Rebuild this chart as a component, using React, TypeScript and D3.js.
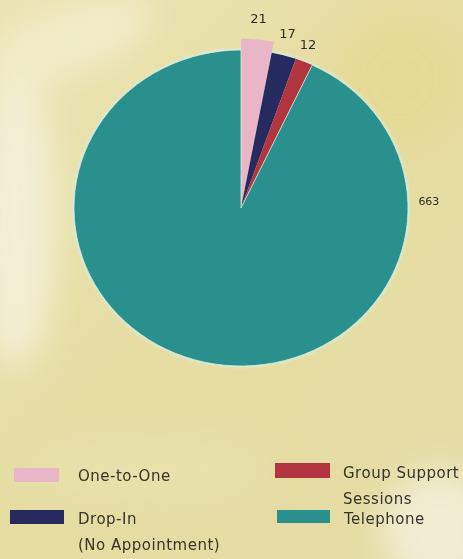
import React from "react";
import * as d3 from "d3";

const categories = ["One-to-One", "Drop-In", "Group Support Sessions", "Telephone"];
const values = [21, 17, 12, 663];
const valueLabels = ["21", "17", "12", "663"];
const colors = ["#e9b6c8", "#262a5e", "#b3363f", "#2a908e"];

const W = 463;
const H = 559;

export default function App() {
  const cx = 241;
  const cy = 208;
  const rx = 167;
  const ry = 158;
  const sy = ry / rx;

  const pie = d3.pie<number>().sort(null).value((d) => d)(values);
  const arc = d3.arc<d3.PieArcDatum<number>>().innerRadius(0).outerRadius(rx);
  const arcBig = d3.arc<d3.PieArcDatum<number>>().innerRadius(0).outerRadius(rx + 12);

  const labelR = [190, 181, 177];
  const labelPos = pie.map((p, i) => {
    const a = i < 3 ? (p.startAngle + p.endAngle) / 2 : (88 * Math.PI) / 180;
    const r = i < 3 ? labelR[i] : 188;
    return { x: cx + Math.sin(a) * r, y: cy - Math.cos(a) * r * (i < 3 ? 1 : sy) };
  });

  const legend = [
    { i: 0, sx: 14, sy: 468, sw: 45, sh: 14, tx: 78, lines: ["One-to-One"], ty: 481 },
    { i: 1, sx: 10, sy: 510, sw: 54, sh: 14, tx: 78, lines: ["Drop-In", "(No Appointment)"], ty: 524 },
    { i: 2, sx: 275, sy: 463, sw: 55, sh: 15, tx: 343, lines: ["Group Support", "Sessions"], ty: 478 },
    { i: 3, sx: 277, sy: 510, sw: 53, sh: 13, tx: 344, lines: ["Telephone"], ty: 524 },
  ];

  return (
    <svg
      width={W}
      height={H}
      style={{ position: "absolute", left: 0, top: 0 }}
      viewBox={`0 0 ${W} ${H}`}
    >
      <defs>
        <linearGradient id="bg" x1="0" y1="0" x2="1" y2="1">
          <stop offset="0" stopColor="#ebe4b4" />
          <stop offset="0.5" stopColor="#e6dda2" />
          <stop offset="1" stopColor="#e4dca4" />
        </linearGradient>
        <filter id="blur" x="-50%" y="-50%" width="200%" height="200%">
          <feGaussianBlur stdDeviation="18" />
        </filter>
        <filter id="soft" x="-10%" y="-10%" width="120%" height="120%">
          <feGaussianBlur stdDeviation="0.6" />
        </filter>
        <filter id="halo" x="-10%" y="-10%" width="120%" height="120%">
          <feGaussianBlur stdDeviation="1.5" />
        </filter>
      </defs>
      <rect x={0} y={0} width={W} height={H} fill="url(#bg)" />
      <g filter="url(#blur)" opacity={0.85}>
        <ellipse cx={15} cy={220} rx={40} ry={150} fill="#f5f2de" />
        <ellipse cx={70} cy={40} rx={90} ry={35} fill="#f2edcc" transform="rotate(-20 70 40)" />
        <ellipse cx={440} cy={530} rx={60} ry={60} fill="#f3f0dc" />
        <ellipse cx={400} cy={80} rx={70} ry={70} fill="#e6d994" />
        <ellipse cx={150} cy={470} rx={120} ry={40} fill="#e8e1ad" />
      </g>

      {/* halo around pie */}
      <g transform={`translate(${cx},${cy}) scale(1,${sy})`} filter="url(#halo)">
        <circle r={rx + 1.5} fill="#d6eedc" />
      </g>

      <g transform={`translate(${cx},${cy}) scale(1,${sy})`} filter="url(#soft)">
        {pie.map((p, i) => (
          <path
            key={categories[i]}
            d={(i === 0 ? arcBig(p) : arc(p)) || ""}
            fill={colors[i]}
            stroke={i === 3 ? "#d9ecd9" : "none"}
            strokeWidth={i === 3 ? 0.8 : 0}
          />
        ))}
      </g>

      <g fontFamily="'DejaVu Sans', sans-serif" fill="#2e2e28" filter="url(#soft)">
        {pie.map((p, i) => (
          <text
            key={"l" + i}
            x={labelPos[i].x}
            y={labelPos[i].y}
            textAnchor="middle"
            dominantBaseline="central"
            fontSize={i < 3 ? 13 : 11}
          >
            {valueLabels[i]}
          </text>
        ))}
      </g>

      <g filter="url(#soft)">
        {legend.map((l) => (
          <g key={"lg" + l.i}>
            <rect x={l.sx} y={l.sy} width={l.sw} height={l.sh} fill={colors[l.i]} />
            {l.lines.map((t, j) => (
              <text
                key={t}
                x={l.tx}
                y={l.ty + j * 26}
                fontFamily="'DejaVu Sans', sans-serif"
                fontSize={15}
                letterSpacing={0.5}
                fill="#34342c"
              >
                {t}
              </text>
            ))}
          </g>
        ))}
      </g>
    </svg>
  );
}
